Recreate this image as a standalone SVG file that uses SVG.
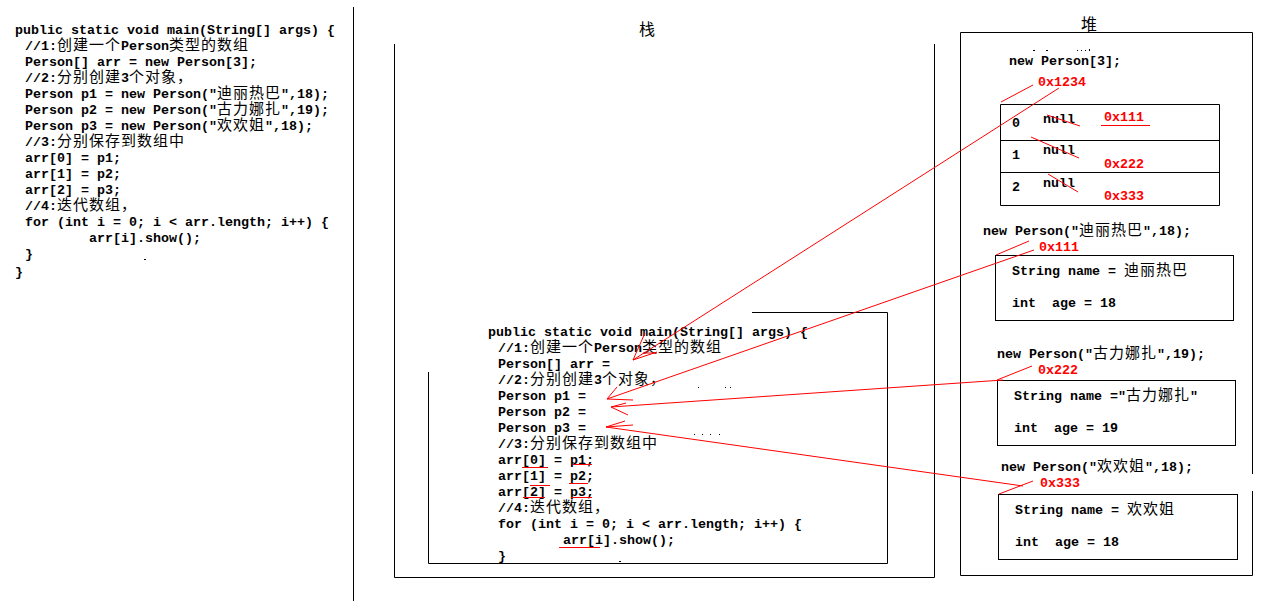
<svg xmlns="http://www.w3.org/2000/svg" width="1279" height="601" viewBox="0 0 1279 601">
<style>
.c{font-family:"Liberation Mono","DejaVu Sans Mono",monospace;font-size:13.33px;font-weight:bold;fill:#000;white-space:pre}
.r{fill:#f00}
.z{font-family:"Noto Sans CJK SC","Noto Sans CJK JP",sans-serif;font-size:15px;letter-spacing:1px;font-weight:normal}
.t{font-family:"Noto Sans CJK SC",sans-serif;font-size:16px;fill:#000}
.b{fill:none;stroke:#000;stroke-width:1}
.rl{fill:none;stroke:#f00;stroke-width:1}
</style>
<rect width="1279" height="601" fill="#fff"/>

<g id="code-left">
<text class="c" x="15" y="34">public static void main(String[] args) {</text>
<text class="c" x="25" y="50">//1:<tspan class="z">创建一个</tspan>Person<tspan class="z">类型的数组</tspan></text>
<text class="c" x="25" y="66">Person[] arr = new Person[3];</text>
<text class="c" x="25" y="82">//2:<tspan class="z">分别创建</tspan>3<tspan class="z">个对象，</tspan></text>
<text class="c" x="25" y="98">Person p1 = new Person("<tspan class="z">迪丽热巴</tspan>",18);</text>
<text class="c" x="25" y="114">Person p2 = new Person("<tspan class="z">古力娜扎</tspan>",19);</text>
<text class="c" x="25" y="130">Person p3 = new Person("<tspan class="z">欢欢姐</tspan>",18);</text>
<text class="c" x="25" y="146">//3:<tspan class="z">分别保存到数组中</tspan></text>
<text class="c" x="25" y="162">arr[0] = p1;</text>
<text class="c" x="25" y="178">arr[1] = p2;</text>
<text class="c" x="25" y="194">arr[2] = p3;</text>
<text class="c" x="25" y="210">//4:<tspan class="z">迭代数组，</tspan></text>
<text class="c" x="25" y="226">for (int i = 0; i &lt; arr.length; i++) {</text>
<text class="c" x="89" y="242">arr[i].show();</text>
<text class="c" x="25" y="258">}</text>
<text class="c" x="15" y="276">}</text>
<rect x="144" y="259" width="2" height="1" fill="#000"/>
</g>

<g id="divider"><path class="b" d="M353.5,7 V601"/></g>

<g id="stack">
<text class="t" x="639" y="35">栈</text>
<path class="b" d="M394.5,44 V577.5 H934.5 V44"/>
</g>

<g id="heap">
<text class="t" x="1081" y="30">堆</text>
<path class="b" d="M1252.5,474 V32.5 H960.5 V575.5 H1252.5 V491"/>
</g>

<g id="stack-frame">
<path class="b" d="M752,312.5 H887.5 V563.5 H428.5 V372"/>
<text class="c" x="488" y="336">public static void main(String[] args) {</text>
<text class="c" x="498" y="352">//1:<tspan class="z">创建一个</tspan>Person<tspan class="z">类型的数组</tspan></text>
<text class="c" x="498" y="368">Person[] arr =</text>
<text class="c" x="498" y="384">//2:<tspan class="z">分别创建</tspan>3<tspan class="z">个对象，</tspan></text>
<text class="c" x="498" y="400">Person p1 =</text>
<text class="c" x="498" y="416">Person p2 =</text>
<text class="c" x="498" y="432">Person p3 =</text>
<text class="c" x="498" y="448">//3:<tspan class="z">分别保存到数组中</tspan></text>
<text class="c" x="498" y="464">arr[0] = p1;</text>
<text class="c" x="498" y="480">arr[1] = p2;</text>
<text class="c" x="498" y="496">arr[2] = p3;</text>
<text class="c" x="498" y="512">//4:<tspan class="z">迭代数组，</tspan></text>
<text class="c" x="498" y="528">for (int i = 0; i &lt; arr.length; i++) {</text>
<text class="c" x="563" y="544">arr[i].show();</text>
<text class="c" x="498" y="560">}</text>
<g fill="#000">
<rect x="619" y="561" width="2" height="1"/>
<rect x="698" y="387" width="1" height="1"/><rect x="725" y="387" width="1" height="1"/><rect x="730" y="387" width="1" height="1"/>
<rect x="694" y="434" width="1" height="1"/><rect x="702" y="434" width="1" height="1"/><rect x="710" y="434" width="1" height="1"/><rect x="719" y="434" width="1" height="1"/>
</g>
<path class="rl" d="M522,467.5 H548 M573,464.5 H592 M530,485.5 H550 M569,483.5 H588 M523,497.5 H545 M571,497.5 H592 M559,547.5 H600"/>
</g>

<g id="array-obj">
<g fill="#000">
<rect x="1033" y="50" width="2" height="1"/><rect x="1046" y="50" width="2" height="1"/><rect x="1077" y="50" width="1" height="1"/><rect x="1081" y="50" width="1" height="1"/><rect x="1085" y="50" width="1" height="1"/><rect x="1089" y="49" width="1" height="2"/>
</g>
<text class="c" x="1009" y="65">new Person[3];</text>
<text class="c r" x="1038" y="86">0x1234</text>
<path class="b" d="M1000.5,104.5 H1219.5 V205.5 H1000.5 Z M1000.5,140.5 H1219.5 M1000.5,172.5 H1219.5"/>
<text class="c" x="1012" y="127">0</text>
<text class="c" x="1043" y="123">null</text>
<text class="c r" x="1104" y="121">0x111</text>
<text class="c" x="1012" y="159">1</text>
<text class="c" x="1043" y="154">null</text>
<text class="c r" x="1104" y="168">0x222</text>
<text class="c" x="1012" y="191">2</text>
<text class="c" x="1043" y="187">null</text>
<text class="c r" x="1104" y="200">0x333</text>
<path class="rl" d="M1047,115 L1080,126 M1031,137 L1079,158 M1048,174 L1078,192 M1101,125.5 H1150"/>
</g>

<g id="person1">
<text class="c" x="983" y="235">new Person("<tspan class="z">迪丽热巴</tspan>",18);</text>
<text class="c r" x="1039" y="251">0x111</text>
<rect class="b" x="995.5" y="255.5" width="238" height="65"/>
<text class="c" x="1012" y="275">String name = <tspan class="z">迪丽热巴</tspan></text>
<text class="c" x="1012" y="307">int  age = 18</text>
</g>

<g id="person2">
<text class="c" x="997" y="358">new Person("<tspan class="z">古力娜扎</tspan>",19);</text>
<text class="c r" x="1038" y="374">0x222</text>
<rect class="b" x="997.5" y="380.5" width="238" height="65"/>
<text class="c" x="1014" y="400">String name ="<tspan class="z">古力娜扎</tspan>"</text>
<text class="c" x="1014" y="432">int  age = 19</text>
</g>

<g id="person3">
<text class="c" x="1001" y="471">new Person("<tspan class="z">欢欢姐</tspan>",18);</text>
<text class="c r" x="1040" y="487">0x333</text>
<rect class="b" x="998.5" y="494.5" width="239" height="65"/>
<text class="c" x="1015" y="514">String name = <tspan class="z">欢欢姐</tspan></text>
<text class="c" x="1015" y="546">int  age = 18</text>
</g>

<g id="connectors">
<path class="rl" d="M1059,88 L633,360 M1033,85 L1001,102 M645,333 L633,360 L657,352 M643,353 H657"/>
<path class="rl" d="M1034,250 L607,399 M1029,241 L996,255 M617,387 L607,399 L633,400"/>
<path class="rl" d="M1003,380 L611,407 M997,380 L1032,366 M626,403 L611,407 L628,415"/>
<path class="rl" d="M606,427 L1023,486 M999,494 L1033,481 M633,425 L606,427 L625,421"/>
</g>
</svg>
